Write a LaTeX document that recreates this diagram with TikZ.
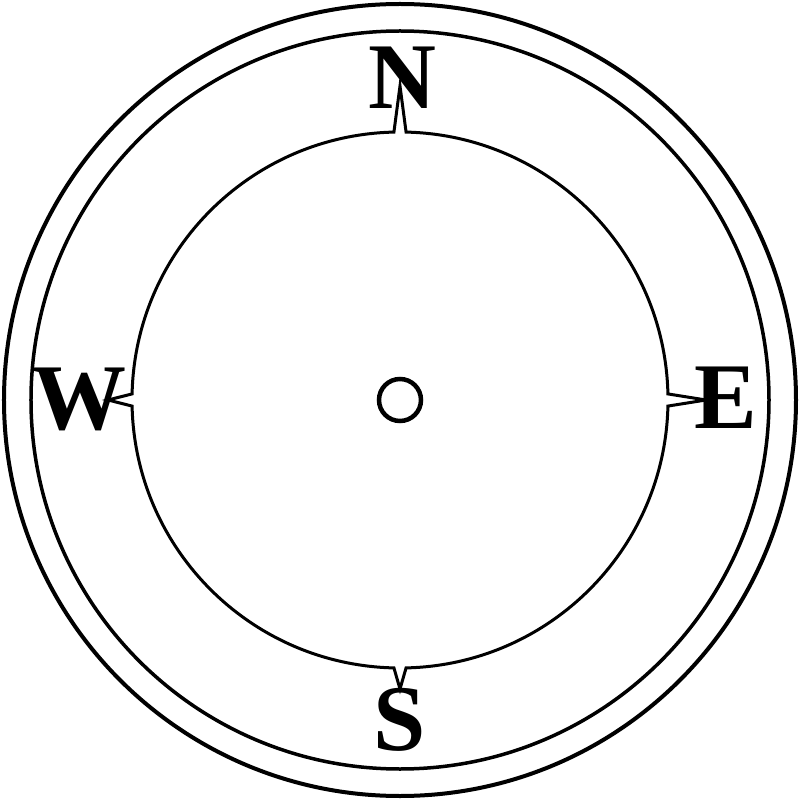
\documentclass[tikz,border=0pt]{standalone}
\usepackage{fontspec}
\setmainfont{Liberation Serif}
\begin{document}
\begin{tikzpicture}[x=1pt,y=1pt,
  ring/.style={draw=black,line width=#1},
  letter/.style={inner sep=0pt,font=\fontsize{94}{94}\selectfont\bfseries}]
\useasboundingbox (-400,-400) rectangle (400,400);
\draw[ring=4] (0,0) circle[radius=396];
\draw[ring=3.5] (0,0) circle[radius=369];
\node[letter] (N) at (2,322) {N};
\node[letter] (W) at (-320,1) {W};
\node[letter] (E) at (326,2) {E};
\node[letter] (S) at (0,-320) {S};
\draw[ring=3,line join=miter,miter limit=20]
  (91.3:268) arc[start angle=91.3,end angle=178.7,radius=268] -- (180:292) --
  (181.3:268) arc[start angle=181.3,end angle=268.7,radius=268] -- (270:289) --
  (271.3:268) arc[start angle=271.3,end angle=358.7,radius=268] -- (0:306) --
  (1.3:268) arc[start angle=1.3,end angle=88.7,radius=268] -- (90:314) -- cycle;
\draw[ring=4.5] (0,0) circle[radius=21];
\end{tikzpicture}
\end{document}
